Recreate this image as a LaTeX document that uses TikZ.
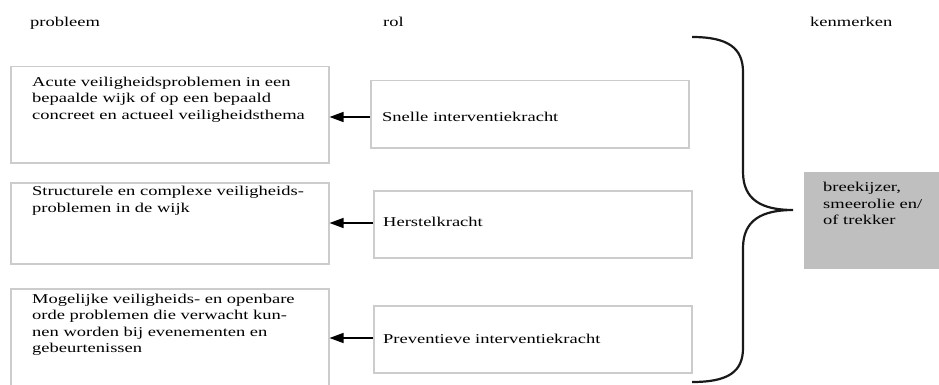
\documentclass[tikz,border=0pt]{standalone}
\usepackage{fontspec}
\setmainfont{Liberation Serif}[FakeStretch=1.37]
\usetikzlibrary{arrows.meta}
\definecolor{boxgray}{HTML}{CCCCCC}
\definecolor{fillgray}{HTML}{BFBFBF}
\tikzset{
  box/.style={draw=boxgray, line width=1.5pt, rectangle, inner sep=0pt, anchor=north west},
  txt/.style={anchor=north west, inner sep=0pt, align=left, font=\fontsize{13.5}{16.5}\selectfont, text=black},
  conn/.style={line width=1.4pt, -{Triangle[length=14pt,width=10pt]}},
  bracestyle/.style={line width=2.2pt, black!90}
}
\begin{document}
\begin{tikzpicture}[x=1pt,y=-1pt]
\clip (0,0) rectangle (939,385);
\fill[white] (0,0) rectangle (939,385);
% headings
\node[txt] (hprob) at (30,16.5) {probleem};
\node[txt] (hrol) at (383,16.5) {rol};
\node[txt] (hken) at (810,16.5) {kenmerken};
% problem boxes
\node[box, minimum width=318pt, minimum height=96pt] (p1) at (10,66) {};
\node[box, minimum width=318pt, minimum height=81pt] (p2) at (10,182) {};
\node[box, minimum width=318pt, minimum height=110pt] (p3) at (10,288) {};
\node[txt] (t1) at (32,76.5) {Acute veiligheidsproblemen in een\\bepaalde wijk of op een bepaald\\concreet en actueel veiligheidsthema};
\node[txt] (t2) at (32,186) {Structurele en complexe veiligheids-\\problemen in de wijk};
\node[txt] (t3) at (32,293.5) {Mogelijke veiligheids- en openbare\\orde problemen die verwacht kun-\\nen worden bij evenementen en\\gebeurtenissen};
% role boxes
\node[box, minimum width=318pt, minimum height=67pt] (r1) at (370,80) {};
\node[box, minimum width=318pt, minimum height=67pt] (r2) at (373,190) {};
\node[box, minimum width=318pt, minimum height=67pt] (r3) at (373,305) {};
\node[txt] (s1) at (382,112) {Snelle interventiekracht};
\node[txt] (s2) at (383,217) {Herstelkracht};
\node[txt] (s3) at (383,333.5) {Preventieve interventiekracht};
% arrows
\draw[conn] (r1.west |- 0,117) -- (p1.east |- 0,117);
\draw[conn] (r2.west |- 0,223) -- (p2.east |- 0,223);
\draw[conn] (r3.west |- 0,338) -- (p3.east |- 0,338);
% brace
\draw[bracestyle] (692,37) .. controls (728,37) and (743,48) .. (743,72)
  -- (743,172) .. controls (743,200) and (762,210) .. (793,210)
  .. controls (762,210) and (743,220) .. (743,248)
  -- (743,348) .. controls (743,372) and (728,382) .. (692,382);
% characteristics box
\node[box, draw=none, fill=fillgray, minimum width=150pt, minimum height=97pt] (k) at (803,171) {};
\node[txt] (kt) at (823,182) {breekijzer,\\smeerolie en/\\of trekker};
\end{tikzpicture}
\end{document}
